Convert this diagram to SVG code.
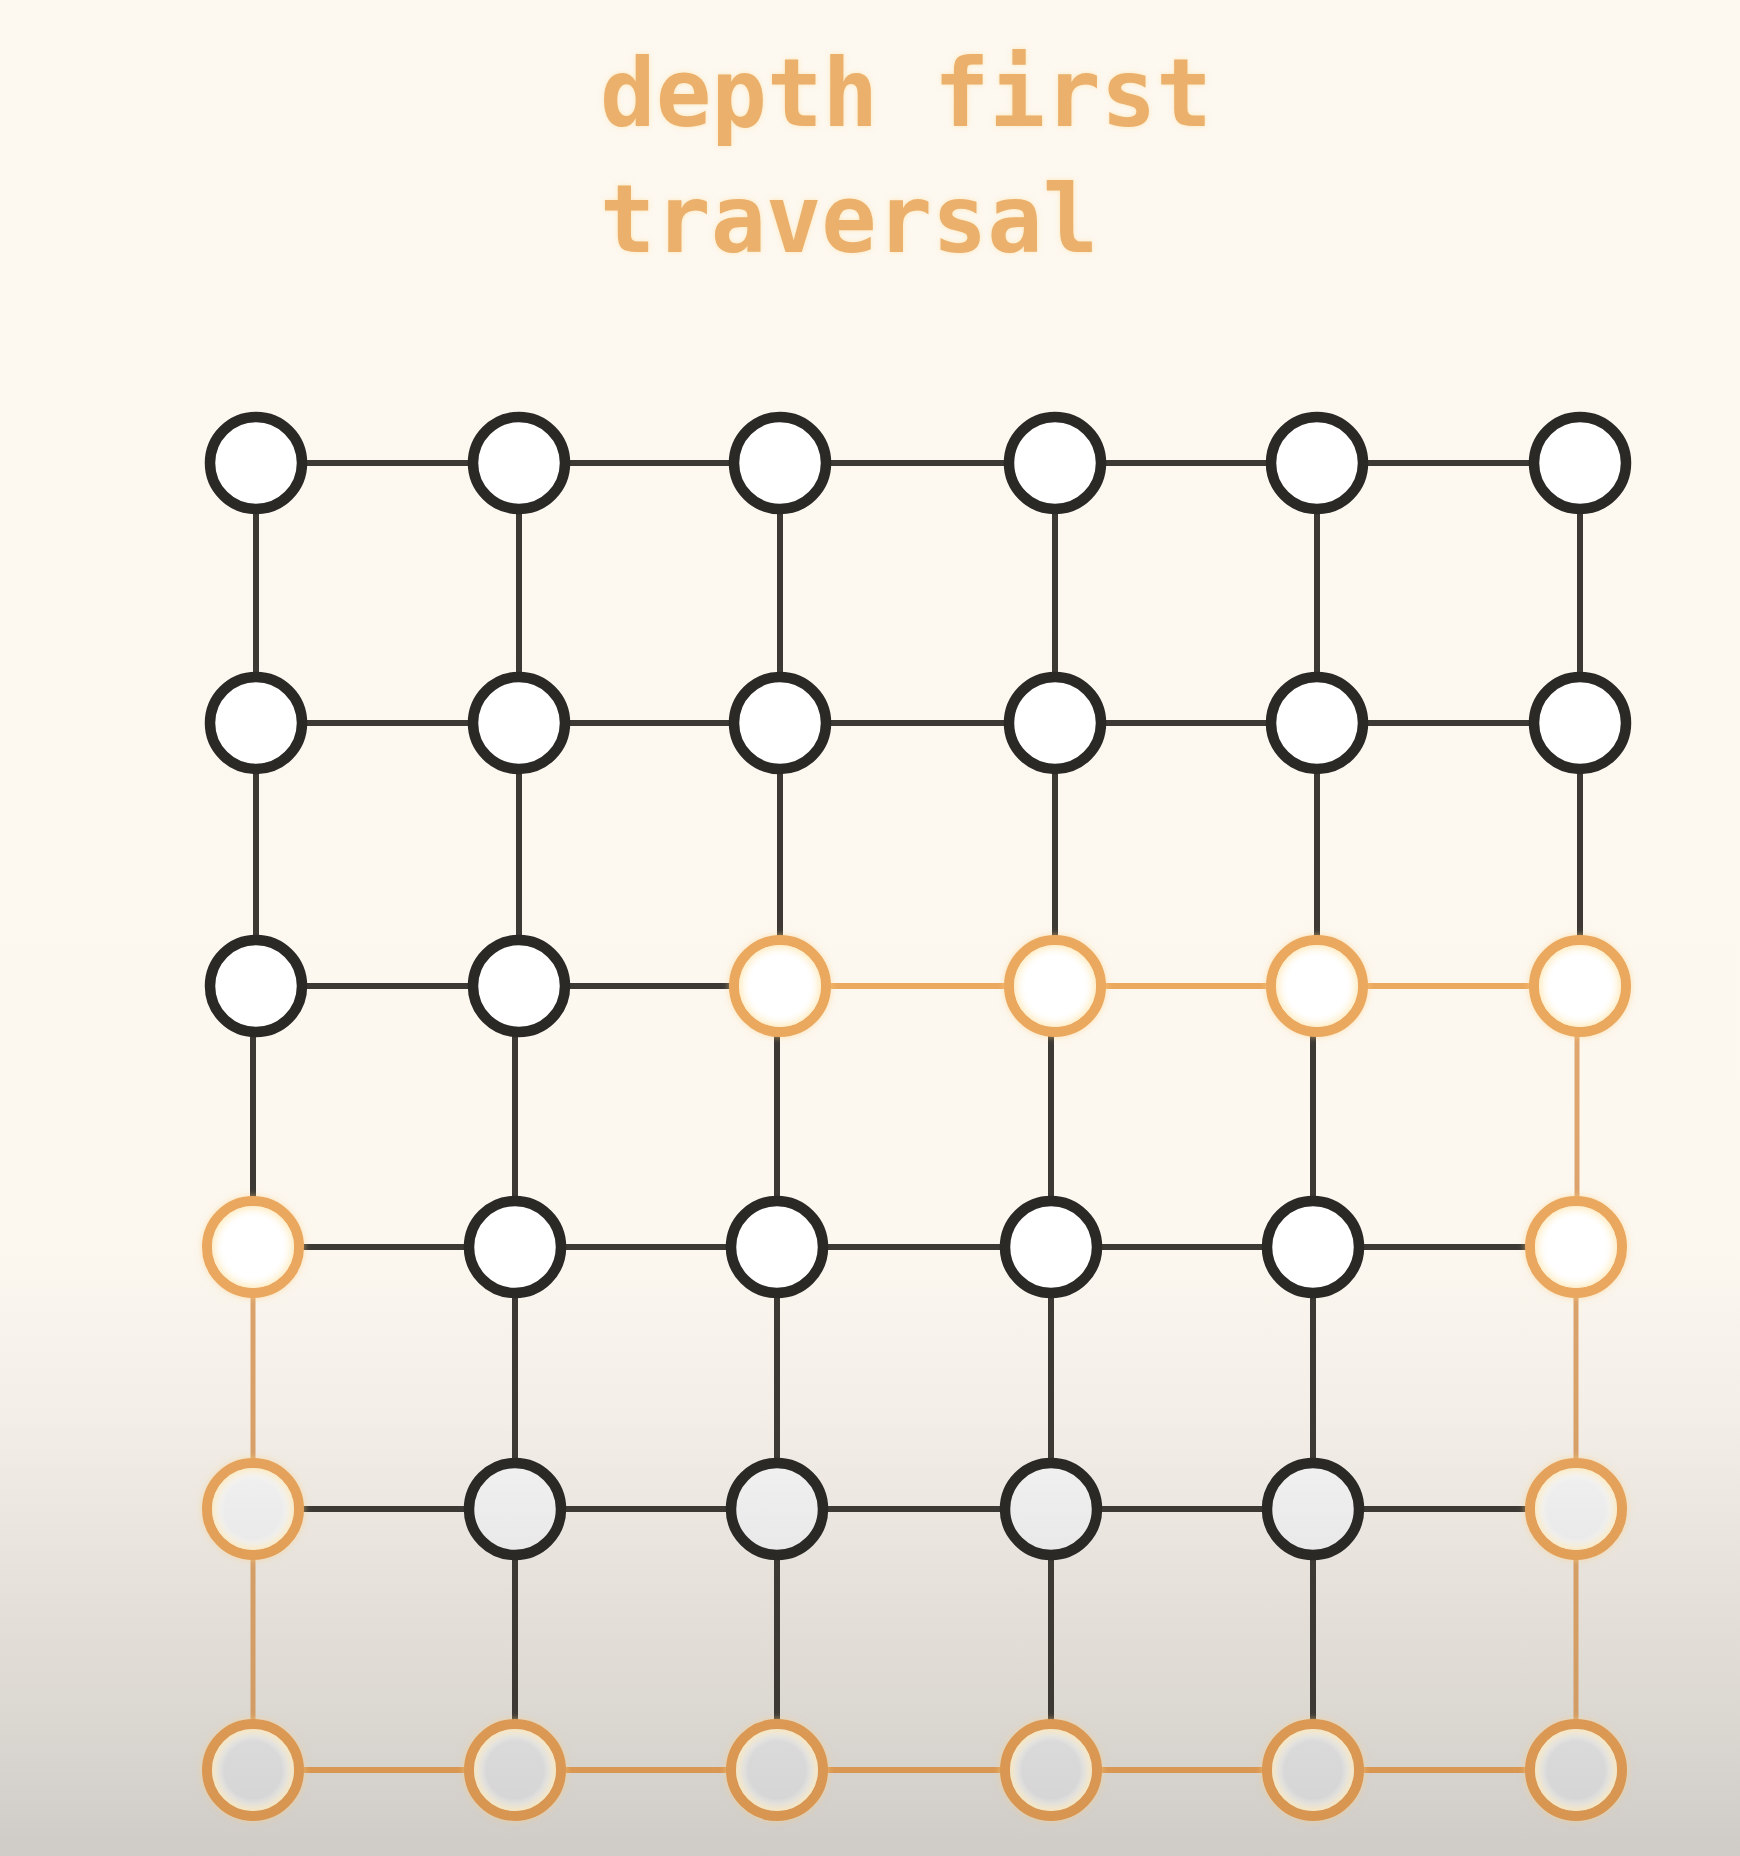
<svg xmlns="http://www.w3.org/2000/svg" width="1740" height="1856" viewBox="0 0 1740 1856">
<defs>
  <linearGradient id="bg" x1="0" y1="0" x2="0" y2="1856" gradientUnits="userSpaceOnUse">
    <stop offset="0" stop-color="#fdf8f0"/>
    <stop offset="0.67" stop-color="#fcf7ef"/>
    <stop offset="0.76" stop-color="#f3eee7"/>
    <stop offset="0.84" stop-color="#e8e3dc"/>
    <stop offset="0.92" stop-color="#dcd8d2"/>
    <stop offset="1" stop-color="#cfcbc6"/>
  </linearGradient>
  <linearGradient id="nodeFill" x1="0" y1="1300" x2="0" y2="1856" gradientUnits="userSpaceOnUse">
    <stop offset="0" stop-color="#ffffff"/>
    <stop offset="0.38" stop-color="#ececec"/>
    <stop offset="0.84" stop-color="#d8d8d8"/>
    <stop offset="1" stop-color="#d2d2d2"/>
  </linearGradient>
  <linearGradient id="orangeStroke" x1="0" y1="900" x2="0" y2="1856" gradientUnits="userSpaceOnUse">
    <stop offset="0" stop-color="#eba95f"/>
    <stop offset="0.45" stop-color="#e9a75f"/>
    <stop offset="1" stop-color="#d69450"/>
  </linearGradient>
  <linearGradient id="orangeV" x1="0" y1="900" x2="0" y2="1856" gradientUnits="userSpaceOnUse">
    <stop offset="0" stop-color="#e2a872"/>
    <stop offset="1" stop-color="#cf9a62"/>
  </linearGradient>
  <filter id="glow" x="-30%" y="-30%" width="160%" height="160%">
    <feGaussianBlur in="SourceAlpha" stdDeviation="3" result="b"/>
    <feFlood flood-color="#ffcf80" flood-opacity="0.6" result="f"/>
    <feComposite in="f" in2="b" operator="in" result="g"/>
    <feMerge>
      <feMergeNode in="g"/>
      <feMergeNode in="SourceGraphic"/>
    </feMerge>
  </filter>
  <filter id="tglow" x="-5%" y="-20%" width="110%" height="140%">
    <feGaussianBlur in="SourceAlpha" stdDeviation="2.5" result="b"/>
    <feFlood flood-color="#ffd98a" flood-opacity="0.55" result="f"/>
    <feComposite in="f" in2="b" operator="in" result="g"/>
    <feMerge>
      <feMergeNode in="g"/>
      <feMergeNode in="SourceGraphic"/>
    </feMerge>
  </filter>
  <radialGradient id="warm" cx="0.5" cy="0.5" r="0.5">
    <stop offset="0.7" stop-color="#ffffff" stop-opacity="0"/>
    <stop offset="1" stop-color="#ffe9b8" stop-opacity="0.8"/>
  </radialGradient>
</defs>
<style>
  .title { font-family: "DejaVu Sans Mono", "Liberation Mono", monospace; font-weight: bold; font-size: 94px; fill: #ebb06c; }
  .e { stroke: #3c3934; stroke-width: 6; fill: none; }
  .eo { stroke: url(#orangeStroke); stroke-width: 6; fill: none; }
  .ev { stroke: url(#orangeV); stroke-width: 5; fill: none; }
  .n circle.c { fill: url(#nodeFill); stroke: #2a2926; stroke-width: 10.5; }
  .o circle.c { fill: url(#nodeFill); stroke: url(#orangeStroke); stroke-width: 10; }
  .o circle.w { fill: url(#warm); stroke: none; }
</style>
<rect x="0" y="0" width="1740" height="1856" fill="url(#bg)"/>
<g id="title" filter="url(#tglow)">
  <text class="title" x="600" y="126" textLength="612" lengthAdjust="spacingAndGlyphs">depth first</text>
  <text class="title" x="600" y="252" textLength="498" lengthAdjust="spacingAndGlyphs">traversal</text>
</g>
<g id="connectors">
  <line class="e" x1="256" y1="463" x2="519" y2="463"/>
  <line class="e" x1="519" y1="463" x2="780" y2="463"/>
  <line class="e" x1="780" y1="463" x2="1055" y2="463"/>
  <line class="e" x1="1055" y1="463" x2="1317" y2="463"/>
  <line class="e" x1="1317" y1="463" x2="1580" y2="463"/>
  <line class="e" x1="256" y1="723" x2="519" y2="723"/>
  <line class="e" x1="519" y1="723" x2="780" y2="723"/>
  <line class="e" x1="780" y1="723" x2="1055" y2="723"/>
  <line class="e" x1="1055" y1="723" x2="1317" y2="723"/>
  <line class="e" x1="1317" y1="723" x2="1580" y2="723"/>
  <line class="e" x1="256" y1="986" x2="519" y2="986"/>
  <line class="e" x1="519" y1="986" x2="780" y2="986"/>
  <line class="eo" x1="780" y1="986" x2="1055" y2="986"/>
  <line class="eo" x1="1055" y1="986" x2="1317" y2="986"/>
  <line class="eo" x1="1317" y1="986" x2="1580" y2="986"/>
  <line class="e" x1="253" y1="1247" x2="515" y2="1247"/>
  <line class="e" x1="515" y1="1247" x2="777" y2="1247"/>
  <line class="e" x1="777" y1="1247" x2="1051" y2="1247"/>
  <line class="e" x1="1051" y1="1247" x2="1313" y2="1247"/>
  <line class="e" x1="1313" y1="1247" x2="1576" y2="1247"/>
  <line class="e" x1="253" y1="1509" x2="515" y2="1509"/>
  <line class="e" x1="515" y1="1509" x2="777" y2="1509"/>
  <line class="e" x1="777" y1="1509" x2="1051" y2="1509"/>
  <line class="e" x1="1051" y1="1509" x2="1313" y2="1509"/>
  <line class="e" x1="1313" y1="1509" x2="1576" y2="1509"/>
  <line class="eo" x1="253" y1="1770" x2="515" y2="1770"/>
  <line class="eo" x1="515" y1="1770" x2="777" y2="1770"/>
  <line class="eo" x1="777" y1="1770" x2="1051" y2="1770"/>
  <line class="eo" x1="1051" y1="1770" x2="1313" y2="1770"/>
  <line class="eo" x1="1313" y1="1770" x2="1576" y2="1770"/>
  <line class="e" x1="256" y1="463" x2="256" y2="723"/>
  <line class="e" x1="519" y1="463" x2="519" y2="723"/>
  <line class="e" x1="780" y1="463" x2="780" y2="723"/>
  <line class="e" x1="1055" y1="463" x2="1055" y2="723"/>
  <line class="e" x1="1317" y1="463" x2="1317" y2="723"/>
  <line class="e" x1="1580" y1="463" x2="1580" y2="723"/>
  <line class="e" x1="256" y1="723" x2="256" y2="986"/>
  <line class="e" x1="519" y1="723" x2="519" y2="986"/>
  <line class="e" x1="780" y1="723" x2="780" y2="986"/>
  <line class="e" x1="1055" y1="723" x2="1055" y2="986"/>
  <line class="e" x1="1317" y1="723" x2="1317" y2="986"/>
  <line class="e" x1="1580" y1="723" x2="1580" y2="986"/>
  <line class="e" x1="253" y1="986" x2="253" y2="1247"/>
  <line class="e" x1="515" y1="986" x2="515" y2="1247"/>
  <line class="e" x1="777" y1="986" x2="777" y2="1247"/>
  <line class="e" x1="1051" y1="986" x2="1051" y2="1247"/>
  <line class="e" x1="1313" y1="986" x2="1313" y2="1247"/>
  <line class="ev" x1="1577" y1="986" x2="1577" y2="1247"/>
  <line class="ev" x1="253" y1="1247" x2="253" y2="1509"/>
  <line class="e" x1="515" y1="1247" x2="515" y2="1509"/>
  <line class="e" x1="777" y1="1247" x2="777" y2="1509"/>
  <line class="e" x1="1051" y1="1247" x2="1051" y2="1509"/>
  <line class="e" x1="1313" y1="1247" x2="1313" y2="1509"/>
  <line class="ev" x1="1576" y1="1247" x2="1576" y2="1509"/>
  <line class="ev" x1="253" y1="1509" x2="253" y2="1770"/>
  <line class="e" x1="515" y1="1509" x2="515" y2="1770"/>
  <line class="e" x1="777" y1="1509" x2="777" y2="1770"/>
  <line class="e" x1="1051" y1="1509" x2="1051" y2="1770"/>
  <line class="e" x1="1313" y1="1509" x2="1313" y2="1770"/>
  <line class="ev" x1="1576" y1="1509" x2="1576" y2="1770"/>
</g>
<g id="nodes">
  <g id="n-0-0" class="n"><circle class="c" cx="256" cy="463" r="46"/></g>
  <g id="n-0-1" class="n"><circle class="c" cx="519" cy="463" r="46"/></g>
  <g id="n-0-2" class="n"><circle class="c" cx="780" cy="463" r="46"/></g>
  <g id="n-0-3" class="n"><circle class="c" cx="1055" cy="463" r="46"/></g>
  <g id="n-0-4" class="n"><circle class="c" cx="1317" cy="463" r="46"/></g>
  <g id="n-0-5" class="n"><circle class="c" cx="1580" cy="463" r="46"/></g>

  <g id="n-1-0" class="n"><circle class="c" cx="256" cy="723" r="46"/></g>
  <g id="n-1-1" class="n"><circle class="c" cx="519" cy="723" r="46"/></g>
  <g id="n-1-2" class="n"><circle class="c" cx="780" cy="723" r="46"/></g>
  <g id="n-1-3" class="n"><circle class="c" cx="1055" cy="723" r="46"/></g>
  <g id="n-1-4" class="n"><circle class="c" cx="1317" cy="723" r="46"/></g>
  <g id="n-1-5" class="n"><circle class="c" cx="1580" cy="723" r="46"/></g>

  <g id="n-2-0" class="n"><circle class="c" cx="256" cy="986" r="46"/></g>
  <g id="n-2-1" class="n"><circle class="c" cx="519" cy="986" r="46"/></g>
  <g id="n-2-2" class="o" filter="url(#glow)"><circle class="c" cx="780" cy="986" r="46"/><circle class="w" cx="780" cy="986" r="41"/></g>
  <g id="n-2-3" class="o" filter="url(#glow)"><circle class="c" cx="1055" cy="986" r="46"/><circle class="w" cx="1055" cy="986" r="41"/></g>
  <g id="n-2-4" class="o" filter="url(#glow)"><circle class="c" cx="1317" cy="986" r="46"/><circle class="w" cx="1317" cy="986" r="41"/></g>
  <g id="n-2-5" class="o" filter="url(#glow)"><circle class="c" cx="1580" cy="986" r="46"/><circle class="w" cx="1580" cy="986" r="41"/></g>

  <g id="n-3-0" class="o" filter="url(#glow)"><circle class="c" cx="253" cy="1247" r="46"/><circle class="w" cx="253" cy="1247" r="41"/></g>
  <g id="n-3-1" class="n"><circle class="c" cx="515" cy="1247" r="46"/></g>
  <g id="n-3-2" class="n"><circle class="c" cx="777" cy="1247" r="46"/></g>
  <g id="n-3-3" class="n"><circle class="c" cx="1051" cy="1247" r="46"/></g>
  <g id="n-3-4" class="n"><circle class="c" cx="1313" cy="1247" r="46"/></g>
  <g id="n-3-5" class="o" filter="url(#glow)"><circle class="c" cx="1576" cy="1247" r="46"/><circle class="w" cx="1576" cy="1247" r="41"/></g>

  <g id="n-4-0" class="o" filter="url(#glow)"><circle class="c" cx="253" cy="1509" r="46"/><circle class="w" cx="253" cy="1509" r="41"/></g>
  <g id="n-4-1" class="n"><circle class="c" cx="515" cy="1509" r="46"/></g>
  <g id="n-4-2" class="n"><circle class="c" cx="777" cy="1509" r="46"/></g>
  <g id="n-4-3" class="n"><circle class="c" cx="1051" cy="1509" r="46"/></g>
  <g id="n-4-4" class="n"><circle class="c" cx="1313" cy="1509" r="46"/></g>
  <g id="n-4-5" class="o" filter="url(#glow)"><circle class="c" cx="1576" cy="1509" r="46"/><circle class="w" cx="1576" cy="1509" r="41"/></g>

  <g id="n-5-0" class="o" filter="url(#glow)"><circle class="c" cx="253" cy="1770" r="46"/><circle class="w" cx="253" cy="1770" r="41"/></g>
  <g id="n-5-1" class="o" filter="url(#glow)"><circle class="c" cx="515" cy="1770" r="46"/><circle class="w" cx="515" cy="1770" r="41"/></g>
  <g id="n-5-2" class="o" filter="url(#glow)"><circle class="c" cx="777" cy="1770" r="46"/><circle class="w" cx="777" cy="1770" r="41"/></g>
  <g id="n-5-3" class="o" filter="url(#glow)"><circle class="c" cx="1051" cy="1770" r="46"/><circle class="w" cx="1051" cy="1770" r="41"/></g>
  <g id="n-5-4" class="o" filter="url(#glow)"><circle class="c" cx="1313" cy="1770" r="46"/><circle class="w" cx="1313" cy="1770" r="41"/></g>
  <g id="n-5-5" class="o" filter="url(#glow)"><circle class="c" cx="1576" cy="1770" r="46"/><circle class="w" cx="1576" cy="1770" r="41"/></g>
</g>
</svg>
